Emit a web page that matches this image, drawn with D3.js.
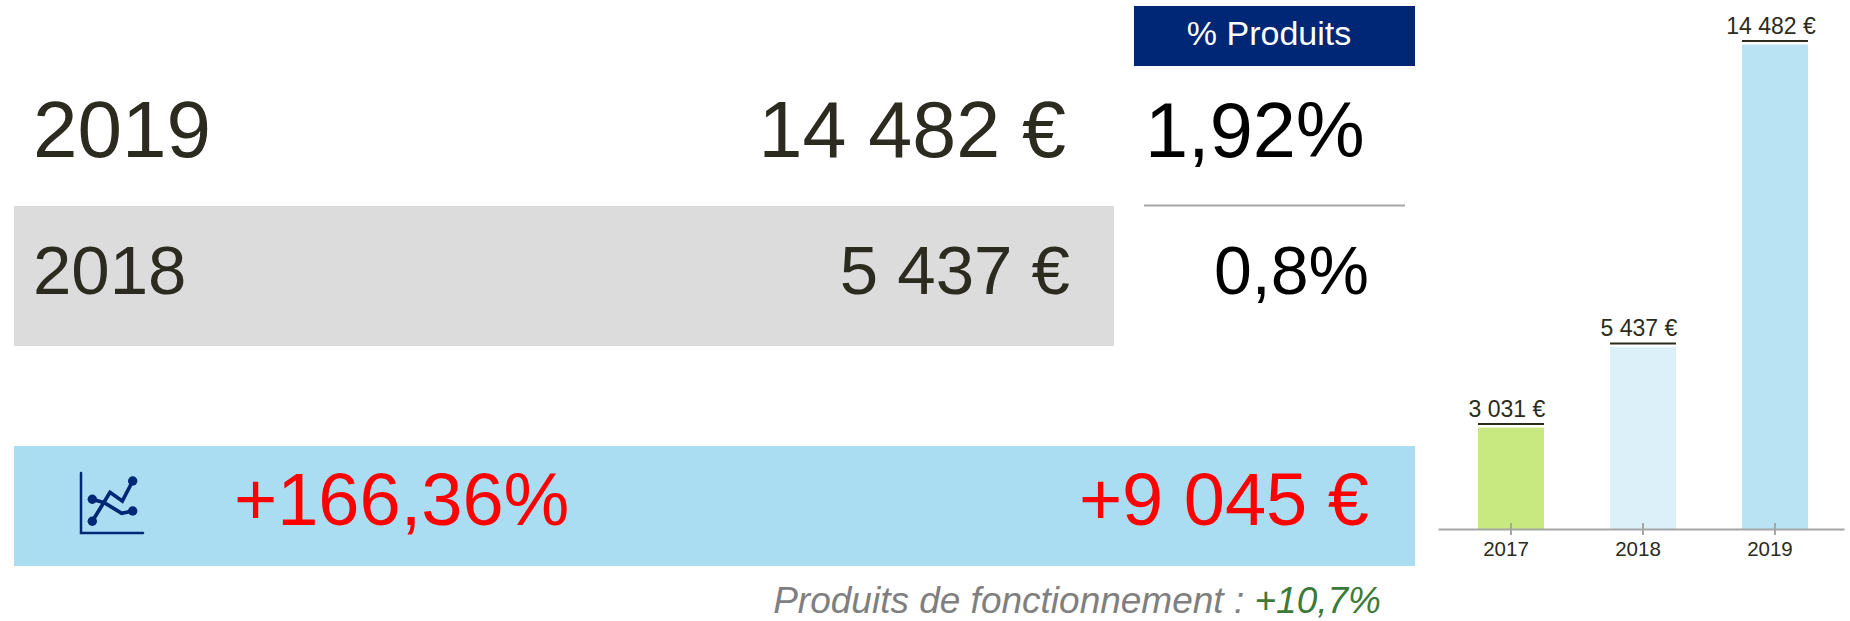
<!DOCTYPE html>
<meta charset="utf-8">
<style>
  body { margin: 0; background: #fff; }
  text { font-family: "Liberation Sans", Arial, sans-serif; }
</style>

<!-- Load d3.js -->
<script src="https://d3js.org/d3.v7.min.js"></script>

<svg id="chart" width="1850" height="621"></svg>

<script>

// Bar chart data
const years = ["2017", "2018", "2019"];
const amounts = [3031, 5437, 14482];
const amountLabels = ["3 031 €", "5 437 €", "14 482 €"];
const barColors = ["#c8e97f", "#dcf0fa", "#b9e3f3"];

// Table data
const rowYears = ["2019", "2018"];
const rowAmounts = ["14 482 €", "5 437 €"];
const rowShares = ["1,92%", "0,8%"];
const headerLabel = "% Produits";
const evolutionPct = "+166,36%";
const evolutionAmount = "+9 045 €";
const footLabel = "Produits de fonctionnement : ";
const footValue = "+10,7%";

const svg = d3.select("#chart");

// Header and row backgrounds
svg.append("rect").attr("x", 1134).attr("y", 6).attr("width", 281).attr("height", 60).attr("fill", "#002776");
svg.append("rect").attr("x", 14).attr("y", 206).attr("width", 1100).attr("height", 140).attr("fill", "#dcdcdc");
svg.append("rect").attr("x", 14).attr("y", 446).attr("width", 1401).attr("height", 120).attr("fill", "#aaddf2");
svg.append("line").attr("x1", 1144).attr("x2", 1405).attr("y1", 205.5).attr("y2", 205.5)
  .attr("stroke", "#a5a5a5").attr("stroke-width", 2);

svg.append("text").attr("x", 1269).attr("y", 45).attr("text-anchor", "middle")
  .attr("font-size", 34).attr("fill", "#fff").text(headerLabel);

// 2019 row
svg.append("text").attr("x", 33).attr("y", 157).attr("font-size", 80).attr("fill", "#2b2b20").text(rowYears[0]);
svg.append("text").attr("x", 1066).attr("y", 157).attr("text-anchor", "end").attr("font-size", 79).attr("fill", "#2b2b20").text(rowAmounts[0]);
svg.append("text").attr("x", 1145).attr("y", 157).attr("font-size", 77.5).attr("fill", "#000").text(rowShares[0]);

// 2018 row
svg.append("text").attr("x", 33).attr("y", 294).attr("font-size", 69).attr("fill", "#2b2b20").text(rowYears[1]);
svg.append("text").attr("x", 1070).attr("y", 294).attr("text-anchor", "end").attr("font-size", 69).attr("fill", "#2b2b20").text(rowAmounts[1]);
svg.append("text").attr("x", 1369).attr("y", 294).attr("text-anchor", "end").attr("font-size", 68).attr("fill", "#000").text(rowShares[1]);

// Evolution row
svg.append("text").attr("x", 234).attr("y", 525).attr("font-size", 74).attr("fill", "#ff0000").text(evolutionPct);
svg.append("text").attr("x", 1369).attr("y", 525).attr("text-anchor", "end").attr("font-size", 74).attr("fill", "#ff0000").text(evolutionAmount);

// Icon
const icon = svg.append("g").attr("transform", "translate(81,473)").attr("fill", "none").attr("stroke", "#002776");
icon.append("path").attr("d", "M0,0V60H62").attr("stroke-width", 2.5).attr("stroke-linecap", "round");
icon.append("path").attr("d", "M11.3,48.3L29,19.3L41.3,28L51.7,8").attr("stroke-width", 3.7);
icon.append("path").attr("d", "M11.3,26.3L23.3,29.7L40.7,40.3L51.7,38").attr("stroke-width", 3.7);
icon.selectAll("circle").data([[11.3, 48.3], [11.3, 26.3], [51.7, 8], [51.7, 38]]).join("circle")
  .attr("cx", d => d[0]).attr("cy", d => d[1]).attr("r", 4.7)
  .attr("fill", "#002776").attr("stroke", "none");

// Foot note
const foot = svg.append("text").attr("x", 1381).attr("y", 613).attr("text-anchor", "end")
  .attr("font-size", 37).attr("font-style", "italic");
foot.append("tspan").attr("fill", "#7f7f7f").text(footLabel);
foot.append("tspan").attr("fill", "#3c7a3c").text(footValue);

// Bar chart scales
const baseline = 529;
const x = d3.scaleBand().domain(years).range([1438, 1844]).paddingInner(0.5).paddingOuter(0.288).align(0.526);
const y = d3.scaleLinear().domain([0, 14482]).range([baseline, 44.5]);

svg.append("g").selectAll("rect").data(years).join("rect")
  .attr("x", d => x(d))
  .attr("y", (d, i) => y(amounts[i]))
  .attr("width", x.bandwidth())
  .attr("height", (d, i) => baseline - y(amounts[i]))
  .attr("fill", (d, i) => barColors[i]);

// Dark line on top of each bar
svg.append("g").selectAll("line").data(years).join("line")
  .attr("x1", d => x(d))
  .attr("x2", d => x(d) + x.bandwidth())
  .attr("y1", (d, i) => y(amounts[i]) - 3.5)
  .attr("y2", (d, i) => y(amounts[i]) - 3.5)
  .attr("stroke", "#2b2b20").attr("stroke-width", 2);

svg.append("g").selectAll("text").data(years).join("text")
  .attr("x", d => x(d) + x.bandwidth() / 2 - 4)
  .attr("y", (d, i) => y(amounts[i]) - 11)
  .attr("text-anchor", "middle")
  .attr("font-size", 23)
  .attr("fill", "#2b2b20")
  .text((d, i) => amountLabels[i]);

// X axis
const axis = svg.append("g").attr("transform", `translate(0,${baseline})`)
  .call(d3.axisBottom(x).tickSize(6).tickPadding(6).tickSizeOuter(0));
axis.select(".domain").attr("stroke", "#a5a5a5").attr("stroke-width", 2);
axis.selectAll(".tick line").attr("y1", -6).attr("stroke", "#a5a5a5").attr("stroke-width", 2);
axis.selectAll(".tick text").attr("dx", -5).attr("font-size", 20.5)
  .attr("font-family", "Liberation Sans").attr("fill", "#2b2b20");

</script>
